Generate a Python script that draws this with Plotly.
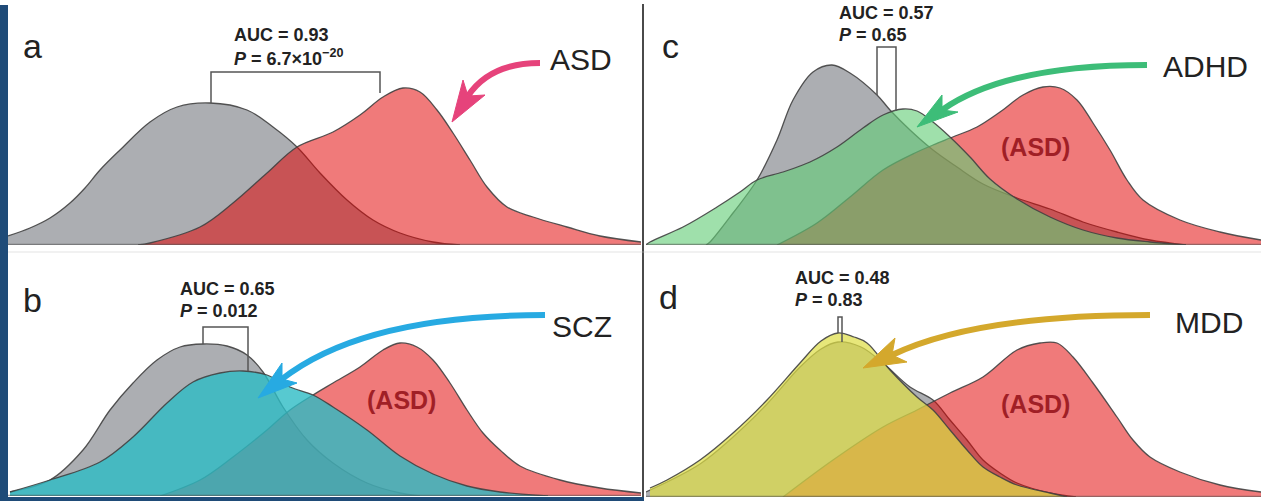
import plotly.graph_objects as go

W, H = 1261, 501

# ---------------- data (score position within panel, density height) -------------
# Panel a : controls vs ASD
a_ctrl_x = [0, 22, 42, 62, 77, 92, 112, 142, 169, 202, 239, 265, 289, 312, 339, 365, 392, 425, 452]
a_ctrl_y = [9, 17, 27, 42, 57, 75, 95, 123, 138, 142, 135, 118, 98, 72, 45, 25, 12, 3, 0]
a_asd_x = [130, 142, 192, 225, 259, 289, 325, 352, 375, 395, 412, 429, 445, 462, 479, 499, 525, 559, 592, 633]
a_asd_y = [0, 2, 18, 42, 72, 98, 113, 130, 148, 157, 153, 135, 112, 85, 58, 38, 28, 18, 9, 3]

# Panel b : controls vs SCZ (ASD shown)
b_ctrl_x = [2, 42, 75, 102, 125, 149, 172, 195, 219, 239, 255, 275, 299, 325, 359, 392, 412]
b_ctrl_y = [4, 16, 46, 86, 113, 136, 149, 152, 150, 141, 124, 89, 56, 33, 13, 3, 0]
b_scz_x = [2, 42, 92, 125, 159, 185, 212, 235, 259, 282, 305, 325, 359, 392, 425, 459, 492, 540]
b_scz_y = [4, 16, 34, 59, 93, 114, 123, 125, 121, 109, 101, 89, 66, 40, 22, 10, 4, 0]
b_asd_x = [152, 192, 225, 259, 282, 305, 325, 352, 375, 392, 409, 425, 442, 459, 475, 492, 512, 552, 592, 633]
b_asd_y = [0, 16, 39, 66, 86, 101, 113, 129, 146, 153, 149, 136, 113, 86, 63, 46, 30, 16, 8, 3]

# Panel c : controls vs ADHD (ASD shown)
c_ctrl_x = [60, 64, 87, 111, 131, 147, 167, 186, 204, 231, 244, 264, 287, 311, 337, 371, 404, 437, 471, 504, 540]
c_ctrl_y = [0, 3, 32, 65, 105, 145, 173, 180, 172, 150, 135, 115, 95, 78, 61, 47, 36, 23, 13, 5, 0]
c_adhd_x = [0, 4, 37, 71, 94, 111, 137, 164, 191, 217, 237, 257, 271, 287, 304, 324, 344, 371, 404, 437, 471, 504, 540]
c_adhd_y = [0, 3, 18, 38, 53, 65, 73, 83, 98, 117, 130, 136, 134, 123, 108, 88, 66, 46, 28, 15, 7, 3, 0]
c_asd_x = [131, 171, 204, 237, 271, 287, 304, 331, 354, 377, 397, 414, 431, 447, 464, 481, 497, 534, 574, 615]
c_asd_y = [0, 22, 48, 75, 93, 100, 107, 118, 133, 150, 158, 157, 145, 122, 95, 65, 45, 25, 13, 5]

# Panel d : controls vs MDD (ASD shown)
d_ctrl_x = [0, 54, 87, 121, 154, 175, 192, 215, 237, 264, 287, 304, 321, 337, 354, 371, 404, 430]
d_ctrl_y = [5, 33, 60, 93, 130, 148, 155, 150, 134, 110, 97, 77, 57, 37, 24, 14, 4, 0]
d_mdd_x = [4, 21, 54, 87, 121, 154, 175, 192, 208, 221, 244, 271, 287, 304, 321, 337, 354, 371, 404, 421]
d_mdd_y = [9, 17, 37, 64, 97, 134, 156, 164, 160, 154, 127, 100, 87, 67, 47, 30, 20, 12, 4, 0]
d_asd_x = [137, 187, 237, 271, 304, 337, 371, 394, 411, 427, 447, 471, 487, 504, 534, 574, 615]
d_asd_y = [0, 37, 70, 87, 104, 120, 147, 154, 154, 140, 114, 80, 57, 40, 25, 12, 5]

# AUC / P labels
auc_text = ["AUC = 0.93", "AUC = 0.65", "AUC = 0.57", "AUC = 0.48"]
p_text = ["<i>P</i> = 6.7×10<sup>−20</sup>", "<i>P</i> = 0.012", "<i>P</i> = 0.65", "<i>P</i> = 0.83"]
panel_letters = ["a", "b", "c", "d"]
disorders = ["ASD", "SCZ", "ADHD", "MDD"]

# ---------------- styling ----------------
GRAY = "rgb(172,174,178)"
RED = "rgba(226,0,0,0.52)"
TEAL = "rgba(45,188,196,0.80)"
GREEN = "rgba(100,205,120,0.62)"
YELLOW = "rgba(222,222,70,0.72)"
OUTLINE = "rgba(65,65,65,0.9)"
ARROW = {"ASD": "#e6437b", "SCZ": "#27aae2", "ADHD": "#3dbd78", "MDD": "#d4a82c"}
DARKBLUE = "#1f4b78"
SANS = "Liberation Sans, Arial, Helvetica, sans-serif"

# panel geometry in pixels: (left, right, top, baseline)
panels = {
    "a": (8, 641, 0, 245),
    "b": (8, 641, 250, 496),
    "c": (646, 1261, 0, 245),
    "d": (646, 1261, 250, 497),
}
axis_ids = {"a": "", "b": "2", "c": "3", "d": "4"}

fig = go.Figure()


def add_density(p, xs, ys, fill):
    i = axis_ids[p]
    fig.add_trace(go.Scatter(
        x=xs, y=ys, mode="lines", line=dict(color=OUTLINE, width=1.3, shape="spline", smoothing=1.0),
        fill="tozeroy", fillcolor=fill, xaxis="x" + i, yaxis="y" + i,
        hoverinfo="skip", showlegend=False))


add_density("a", a_ctrl_x, a_ctrl_y, GRAY)
add_density("a", a_asd_x, a_asd_y, RED)
add_density("b", b_ctrl_x, b_ctrl_y, GRAY)
add_density("b", b_asd_x, b_asd_y, RED)
add_density("b", b_scz_x, b_scz_y, TEAL)
add_density("c", c_ctrl_x, c_ctrl_y, GRAY)
add_density("c", c_asd_x, c_asd_y, RED)
add_density("c", c_adhd_x, c_adhd_y, GREEN)
add_density("d", d_ctrl_x, d_ctrl_y, GRAY)
add_density("d", d_asd_x, d_asd_y, RED)
add_density("d", d_mdd_x, d_mdd_y, YELLOW)

# brackets linking the two compared distributions (x_left, x_right, top, left_bottom, right_bottom)
brackets = {
    "a": (203, 372, 173, 142, 152),
    "b": (195, 240, 169, 152, 125),
    "c": (231, 250, 198, 150, 134),
    "d": (192, 196, 180, 164, 155),
}
for p, (xl, xr, top, lb, rb) in brackets.items():
    i = axis_ids[p]
    fig.add_trace(go.Scatter(x=[xl, xl, xr, xr], y=[lb, top, top, rb], mode="lines",
                             line=dict(color="#555555", width=1.5), xaxis="x" + i, yaxis="y" + i,
                             hoverinfo="skip", showlegend=False))

# axes
layout_axes = {}
for p, (l, r, t, b) in panels.items():
    i = axis_ids[p]
    layout_axes["xaxis" + i] = dict(domain=[l / W, r / W], range=[0, r - l], visible=False,
                                    fixedrange=True, anchor="y" + i)
    layout_axes["yaxis" + i] = dict(domain=[1 - b / H, 1 - t / H], range=[0, b - t], visible=False,
                                    fixedrange=True, anchor="x" + i)

shapes = []
annotations = []


def px(x, y):
    return x / W, 1 - y / H


# frame: dark blue strips, divider, baselines
shapes.append(dict(type="rect", xref="paper", yref="paper", x0=0, x1=8 / W, y0=0, y1=1 - 5 / H,
                   fillcolor=DARKBLUE, line=dict(width=0), layer="above"))
shapes.append(dict(type="rect", xref="paper", yref="paper", x0=0, x1=644 / W, y0=0, y1=1 - 497 / H,
                   fillcolor=DARKBLUE, line=dict(width=0), layer="above"))
shapes.append(dict(type="line", xref="paper", yref="paper", x0=643 / W, x1=643 / W, y0=1 - 497 / H,
                   y1=1 - 4 / H, line=dict(color="#4a4a4a", width=2)))
shapes.append(dict(type="line", xref="paper", yref="paper", x0=8 / W, x1=1, y0=1 - 252 / H,
                   y1=1 - 252 / H, line=dict(color="rgba(200,200,200,0.5)", width=1)))
for p, (l, r, t, b) in panels.items():
    i = axis_ids[p]
    shapes.append(dict(type="line", xref="x" + i, yref="y" + i, x0=0, x1=r - l, y0=0.5, y1=0.5,
                       line=dict(color="rgba(80,80,80,0.55)", width=1.5), layer="above"))

# curved arrows: (tail, control, notch, tip, corner1, corner2)
arrows = {
    "a": ((532, 182), (482, 182), (460, 149), (444, 123), (455, 165), (477, 150)),
    "b": ((537, 181), (356, 181), (274, 117), (250, 98), (274, 133), (289, 113)),
    "c": ((501, 180), (360, 180), (296, 135), (271, 118), (296, 150), (312, 133)),
    "d": ((504, 182), (329, 182), (246, 142), (217, 129), (249, 159), (261, 135)),
}
for (p, (tail, ctrl, notch, tip, c1, c2)), dis in zip(arrows.items(), disorders):
    i = axis_ids[p]
    col = ARROW[dis]
    shapes.append(dict(type="path", xref="x" + i, yref="y" + i,
                       path=f"M {tail[0]},{tail[1]} Q {ctrl[0]},{ctrl[1]} {notch[0]},{notch[1]}",
                       line=dict(color=col, width=6), fillcolor="rgba(0,0,0,0)", layer="above"))
    shapes.append(dict(type="path", xref="x" + i, yref="y" + i,
                       path=f"M {tip[0]},{tip[1]} L {c1[0]},{c1[1]} L {notch[0]},{notch[1]} L {c2[0]},{c2[1]} Z",
                       line=dict(color=col, width=1), fillcolor=col, layer="above"))

# texts (pixel positions)
letter_pos = [(32, 46), (32, 300), (670, 46), (668, 297)]
for s, (x, y) in zip(panel_letters, letter_pos):
    xx, yy = px(x, y)
    annotations.append(dict(text=s, x=xx, y=yy, xref="paper", yref="paper", showarrow=False,
                            xanchor="center", yanchor="middle",
                            font=dict(family=SANS, size=34, color="#222222")))

dis_pos = [(581, 59), (582, 326), (1205, 66), (1209, 322)]
for s, (x, y) in zip(disorders, dis_pos):
    xx, yy = px(x, y)
    annotations.append(dict(text=s, x=xx, y=yy, xref="paper", yref="paper", showarrow=False,
                            xanchor="center", yanchor="middle",
                            font=dict(family=SANS, size=30, color="#222222")))

asd_pos = [(401, 400), (1035, 147), (1035, 404)]
for (x, y) in asd_pos:
    xx, yy = px(x, y)
    annotations.append(dict(text="<b>(ASD)</b>", x=xx, y=yy, xref="paper", yref="paper", showarrow=False,
                            xanchor="center", yanchor="middle",
                            font=dict(family=SANS, size=25, color="#a01f26")))

stat_pos = [(232, 35, 57), (178, 289, 311), (837, 13, 35), (793, 278, 300)]
for a_t, p_t, (x, y1, y2) in zip(auc_text, p_text, stat_pos):
    xx, yy = px(x, y1)
    annotations.append(dict(text="<b>" + a_t + "</b>", x=xx, y=yy, xref="paper", yref="paper",
                            showarrow=False, xanchor="left", yanchor="middle",
                            font=dict(family=SANS, size=18, color="#222222")))
    xx, yy = px(x, y2)
    annotations.append(dict(text="<b>" + p_t + "</b>", x=xx, y=yy, xref="paper", yref="paper",
                            showarrow=False, xanchor="left", yanchor="middle",
                            font=dict(family=SANS, size=18, color="#222222")))

fig.update_layout(
    width=W, height=H, margin=dict(l=0, r=0, t=0, b=0),
    paper_bgcolor="white", plot_bgcolor="rgba(0,0,0,0)",
    shapes=shapes, annotations=annotations, showlegend=False,
    **layout_axes,
)

fig.write_html("out.html", config={"displayModeBar": False})
